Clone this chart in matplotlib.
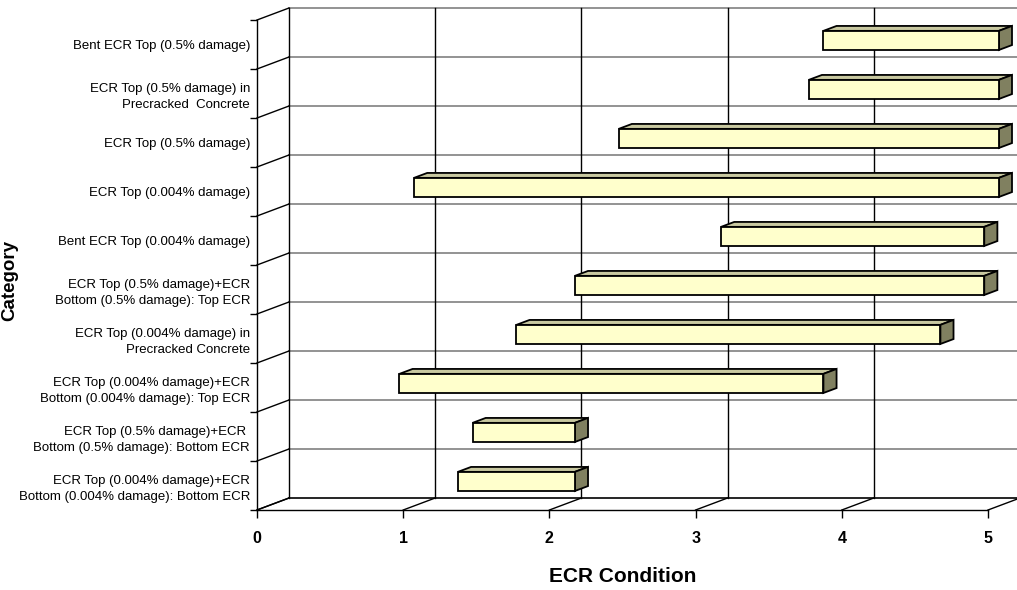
import matplotlib
matplotlib.use('Agg')
import matplotlib.pyplot as plt
from matplotlib.patches import Polygon

# categories listed bottom to top
categories = [
    "ECR Top (0.004% damage)+ECR\nBottom (0.004% damage): Bottom ECR",
    "ECR Top (0.5% damage)+ECR \nBottom (0.5% damage): Bottom ECR",
    "ECR Top (0.004% damage)+ECR\nBottom (0.004% damage): Top ECR",
    "ECR Top (0.004% damage) in\nPrecracked Concrete",
    "ECR Top (0.5% damage)+ECR\nBottom (0.5% damage): Top ECR",
    "Bent ECR Top (0.004% damage)",
    "ECR Top (0.004% damage)",
    "ECR Top (0.5% damage)",
    "ECR Top (0.5% damage) in\nPrecracked  Concrete",
    "Bent ECR Top (0.5% damage)",
]
cond_low = [1.3, 1.4, 0.9, 1.7, 2.1, 3.1, 1.0, 2.4, 3.7, 3.8]
cond_high = [2.1, 2.1, 3.8, 4.6, 4.9, 4.9, 5.0, 5.0, 5.0, 5.0]
x_ticks = [0, 1, 2, 3, 4, 5]

plt.rcParams['font.family'] = ['Liberation Sans', 'DejaVu Sans']

fig = plt.figure(figsize=(10.17, 5.9), dpi=100)
ax = fig.add_axes([257 / 1017, 80 / 590, 731 / 1017, 490 / 590])
ax.set_xlim(0, 5)
ax.set_ylim(0, len(categories))

# oblique depth vector (data units) for the fake 3D look
DX, DY = 32 / 146.2, 12 / 49.0
d0, d1 = 0.34, 0.75
bar_h = 0.39

n = len(categories)
kw = dict(clip_on=False)

# back wall gridlines
for j in range(n + 1):
    col = 'black' if j == 0 else '#808080'
    ax.plot([DX, 5 + DX + 0.2], [j + DY, j + DY], color=col, lw=1.2, zorder=1, **kw)
    # left wall
    ax.plot([0, DX], [j, j + DY], color='black', lw=1, zorder=1, **kw)
for v in x_ticks[:-1]:
    ax.plot([v + DX, v + DX], [DY, n + DY], color='black', lw=1, zorder=1, **kw)
# floor
for v in x_ticks:
    ax.plot([v, v + DX], [0, DY], color='black', lw=1, zorder=1, **kw)

# bars
for i, (s, e) in enumerate(zip(cond_low, cond_high)):
    yb = i + 0.5 - bar_h / 2
    yt = yb + bar_h
    fx0, fx1 = s + d0 * DX, e + d0 * DX
    fy0, fy1 = yb + d0 * DY, yt + d0 * DY
    bx1 = e + d1 * DX
    by0, by1 = yb + d1 * DY, yt + d1 * DY
    top = Polygon([(fx0, fy1), (fx1, fy1), (bx1, by1), (s + d1 * DX, by1)],
                  closed=True, fc='#c8c8a0', ec='black', lw=1.3, zorder=3, **kw)
    side = Polygon([(fx1, fy0), (bx1, by0), (bx1, by1), (fx1, fy1)],
                   closed=True, fc='#808060', ec='black', lw=1.3, zorder=3, **kw)
    front = Polygon([(fx0, fy0), (fx1, fy0), (fx1, fy1), (fx0, fy1)],
                    closed=True, fc='#ffffcc', ec='black', lw=1.3, zorder=4, **kw)
    ax.add_patch(top)
    ax.add_patch(side)
    ax.add_patch(front)

for sp in ['top', 'right']:
    ax.spines[sp].set_visible(False)
ax.spines['left'].set_linewidth(1)
ax.spines['bottom'].set_linewidth(1)

ax.set_xticks(x_ticks)
ax.set_xticklabels([str(v) for v in x_ticks], fontsize=11.5, fontweight='bold')
ax.tick_params(axis='x', length=6, width=1, pad=9)

ax.set_yticks([i + 0.5 for i in range(n)])
ax.set_yticklabels(categories, fontsize=9.5, linespacing=1.45)
ax.set_yticks(range(n + 1), minor=True)
ax.tick_params(axis='y', which='major', length=0, pad=5)
ax.tick_params(axis='y', which='minor', length=5, width=1)

ax.set_xlabel('ECR Condition', fontsize=15, fontweight='bold', labelpad=15)
ax.set_ylabel('Category', fontsize=13.5, fontweight='bold')
ax.yaxis.set_label_coords(-0.327, 0.469)

fig.savefig('out.png', dpi=100)
